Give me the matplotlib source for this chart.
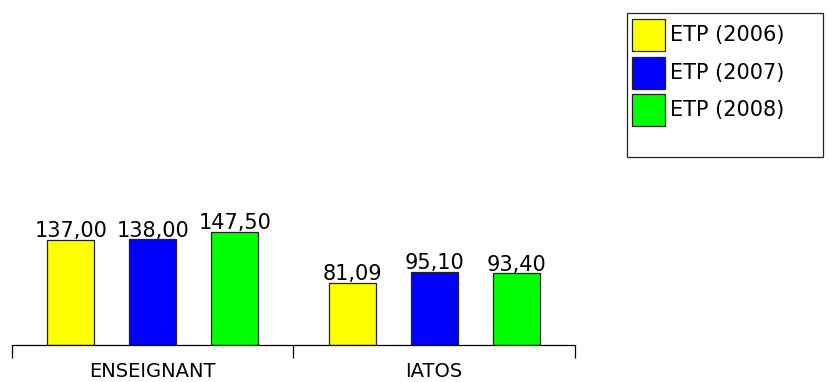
import matplotlib
matplotlib.use("Agg")
import matplotlib.pyplot as plt
import numpy as np
from matplotlib.patches import Rectangle

# effectifs ETP par categorie de personnel
categories = ['ENSEIGNANT', 'IATOS']
series = ['ETP (2006)', 'ETP (2007)', 'ETP (2008)']
etp_2006 = [137.00, 81.09]
etp_2007 = [138.00, 95.10]
etp_2008 = [147.50, 93.40]
colors = ['#FFFF00', '#0000FF', '#00FF00']

W, H = 829, 382
fig = plt.figure(figsize=(W / 100, H / 100), dpi=100)

# axes placed in pixel units
ax_left, ax_right, ax_bottom, ax_top = 12, 575, 345, 200
ax = fig.add_axes([ax_left / W, 1 - ax_bottom / H,
                   (ax_right - ax_left) / W, (ax_bottom - ax_top) / H])

px_per_unit = 0.766
ax.set_ylim(0, (ax_bottom - ax_top) / px_per_unit)
ax.set_xlim(-0.5, len(categories) - 0.5)

x = np.arange(len(categories))
group_px = (ax_right - ax_left) / len(categories)
bar_w = 47 / group_px
step = 82 / group_px

fmt = lambda v: f'{v:.2f}'.replace('.', ',')

for i, (vals, col) in enumerate(zip([etp_2006, etp_2007, etp_2008], colors)):
    xs = x + (i - 1) * step
    bars = ax.bar(xs, vals, width=bar_w, color=col, edgecolor='#222222', linewidth=0.9)
    for xi, v in zip(xs, vals):
        ax.annotate(fmt(v), (xi, v), xytext=(0, 2), textcoords='offset points',
                    ha='center', va='baseline', fontsize=15)

# only the bottom axis line with group separator ticks
for s in ['left', 'right', 'top']:
    ax.spines[s].set_visible(False)
ax.spines['bottom'].set_linewidth(0.9)
ax.set_yticks([])
ax.set_xticks(np.arange(len(categories) + 1) - 0.5)
ax.set_xticklabels([])
ax.tick_params(axis='x', which='major', length=9.4, width=0.9, direction='out')
ax.set_xticks(x, minor=True)
ax.set_xticklabels(categories, minor=True, fontsize=14)
ax.tick_params(axis='x', which='minor', length=0, pad=12)

# legend box drawn by hand
bx0, by0, bx1, by1 = 627, 13, 823, 157
fig.patches.append(Rectangle((bx0 / W, 1 - by1 / H), (bx1 - bx0) / W, (by1 - by0) / H,
                             transform=fig.transFigure, facecolor='white',
                             edgecolor='#222222', linewidth=0.9))
for i, (name, col) in enumerate(zip(series, colors)):
    top = 19 + i * 37.5
    fig.patches.append(Rectangle((632 / W, 1 - (top + 32) / H), 33 / W, 32 / H,
                                 transform=fig.transFigure, facecolor=col,
                                 edgecolor='#222222', linewidth=0.9))
    fig.text(670 / W, 1 - (top + 16) / H, name, ha='left', va='center', fontsize=15)

fig.savefig('out.png', dpi=100)
